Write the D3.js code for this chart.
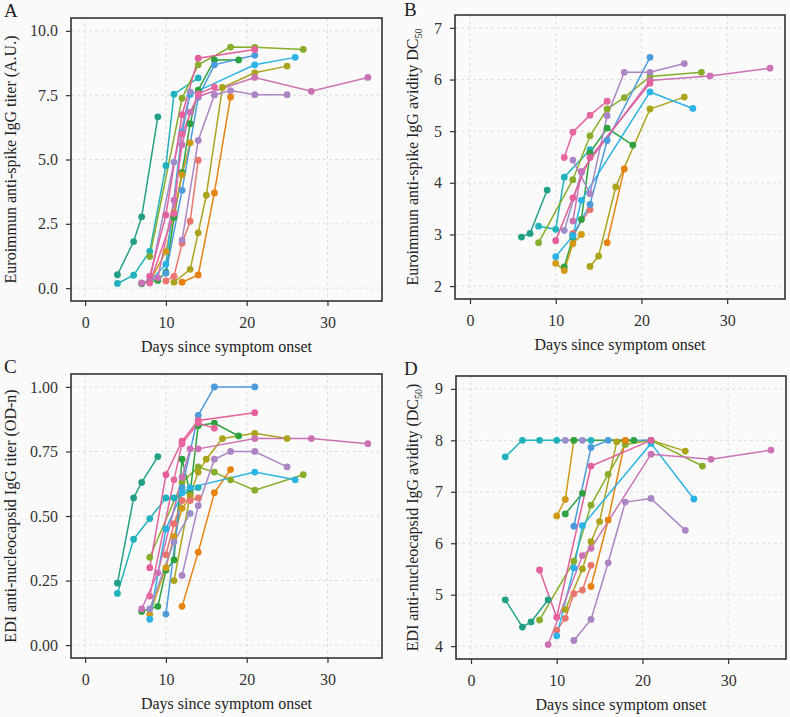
<!DOCTYPE html>
<html>
<head>
<meta charset="utf-8">
<script src="https://cdn.jsdelivr.net/npm/d3@7"></script>
<style>
  body { margin: 0; background: #fafafa; }
  svg { display: block; font-family: "Liberation Serif", "Times New Roman", serif; }
</style>
</head>
<body>
<svg id="chart" width="790" height="717"></svg>
<script>
// ---- data ----
const dayTicks = [0, 10, 20, 30];
const patientIds = ["P01", "P02", "P03", "P04", "P05", "P06", "P07", "P08",
                    "P09", "P10", "P11", "P12", "P13", "P14", "P15", "P16"];

const spikeTiterTicks = [0, 2.5, 5, 7.5, 10];
const spikeAvidityTicks = [2, 3, 4, 5, 6, 7];
const ncTiterTicks = [0, 0.25, 0.5, 0.75, 1];
const ncAvidityTicks = [4, 5, 6, 7, 8, 9];

// [patient, [[day, value], ...]]
const spikeTiter = [
  ["P07", [[4, 0.52], [6, 1.81], [7, 2.77], [9, 6.66]]],
  ["P08", [[4, 0.18], [6, 0.5], [8, 1.43], [10, 4.76], [11, 7.54], [14, 8.17]]],
  ["P05", [[8, 1.23], [12, 7.38], [14, 8.68], [18, 9.37], [21, 9.36], [27, 9.28]]],
  ["P06", [[7, 0.17], [9, 0.3], [10, 0.62], [11, 2.75], [12, 4.5], [13, 6.39], [14, 7.7], [16, 8.87], [19, 8.87]]],
  ["P03", [[8, 0.25], [10, 1.42], [11, 2.93], [12, 4.41], [13, 5.65]]],
  ["P04", [[11, 0.23], [13, 0.73], [14, 2.15], [15, 3.61], [17, 7.8], [21, 8.37], [25, 8.63]]],
  ["P02", [[12, 0.23], [14, 0.51], [16, 3.7], [18, 7.43]]],
  ["P01", [[10, 0.28], [11, 0.46], [12, 1.74], [13, 2.6], [14, 4.97]]],
  ["P10", [[10, 0.58], [12, 3.8], [14, 7.42], [16, 8.68], [21, 9.05]]],
  ["P09", [[8, 0.26], [10, 0.93], [12, 6.06], [13, 7.53], [21, 8.68], [26, 8.97]]],
  ["P11", [[8, 0.3], [11, 4.9], [13, 7.63]]],
  ["P12", [[12, 1.87], [14, 5.74], [16, 7.51], [18, 7.68], [21, 7.52], [25, 7.52]]],
  ["P13", [[7, 0.2], [9, 0.4], [11, 3.42], [12, 5.57], [13, 6.84], [14, 7.45], [21, 8.19], [28, 7.65], [35, 8.19]]],
  ["P14", [[8, 0.46], [10, 2.84], [12, 6.74], [14, 8.94], [21, 9.28]]],
  ["P15", [[8, 0.2], [11, 2.9], [12, 6.0], [14, 7.55], [16, 7.82]]]
];

const spikeAvidity = [
  ["P07", [[6, 2.95], [7, 3.02], [9, 3.86]]],
  ["P08", [[8, 3.16], [10, 3.1], [11, 4.11], [14, 4.64]]],
  ["P05", [[8, 2.84], [12, 4.06], [14, 4.91], [16, 5.43], [18, 5.65], [21, 6.06], [27, 6.14]]],
  ["P06", [[11, 2.37], [12, 2.94], [13, 3.29], [14, 4.58], [16, 5.06], [19, 4.73]]],
  ["P03", [[10, 2.44], [11, 2.3], [12, 2.82], [13, 3.0]]],
  ["P04", [[14, 2.38], [15, 2.58], [17, 3.92], [21, 5.43], [25, 5.66]]],
  ["P02", [[16, 2.84], [18, 4.27]]],
  ["P01", [[12, 3.02], [14, 3.48]]],
  ["P10", [[12, 2.98], [14, 3.58], [16, 4.82], [21, 6.43]]],
  ["P09", [[10, 2.57], [12, 2.97], [13, 3.66], [21, 5.76], [26, 5.44]]],
  ["P11", [[11, 3.08], [13, 4.2]]],
  ["P12", [[12, 4.44], [14, 3.79], [16, 5.3], [18, 6.14], [21, 6.14], [25, 6.31]]],
  ["P13", [[12, 3.26], [13, 4.22], [21, 5.98], [28, 6.07], [35, 6.22]]],
  ["P14", [[10, 2.88], [12, 3.71], [14, 4.49], [21, 5.93]]],
  ["P15", [[11, 4.49], [12, 4.98], [14, 5.31], [16, 5.58]]]
];

const ncTiter = [
  ["P07", [[4, 0.24], [6, 0.57], [7, 0.63], [9, 0.73]]],
  ["P08", [[4, 0.2], [6, 0.41], [8, 0.49], [10, 0.57], [11, 0.57], [14, 0.61]]],
  ["P05", [[8, 0.34], [12, 0.63], [14, 0.69], [16, 0.67], [18, 0.64], [21, 0.6], [27, 0.66]]],
  ["P06", [[7, 0.13], [9, 0.15], [10, 0.29], [11, 0.33], [12, 0.72], [13, 0.59], [14, 0.85], [16, 0.86], [19, 0.81]]],
  ["P03", [[8, 0.12], [10, 0.3], [11, 0.42], [12, 0.53], [13, 0.57]]],
  ["P04", [[11, 0.25], [13, 0.58], [14, 0.67], [15, 0.72], [17, 0.8], [21, 0.82], [25, 0.8]]],
  ["P02", [[12, 0.15], [14, 0.36], [16, 0.59], [18, 0.68]]],
  ["P01", [[10, 0.35], [11, 0.47], [12, 0.56], [13, 0.56], [14, 0.57]]],
  ["P10", [[10, 0.12], [12, 0.61], [14, 0.89], [16, 1.0], [21, 1.0]]],
  ["P09", [[8, 0.1], [10, 0.45], [12, 0.59], [13, 0.61], [21, 0.67], [26, 0.64]]],
  ["P11", [[8, 0.14], [11, 0.4], [13, 0.51]]],
  ["P12", [[12, 0.27], [14, 0.54], [16, 0.72], [18, 0.75], [21, 0.75], [25, 0.69]]],
  ["P13", [[7, 0.14], [9, 0.28], [12, 0.65], [13, 0.76], [14, 0.76], [21, 0.8], [28, 0.8], [35, 0.78]]],
  ["P14", [[8, 0.3], [10, 0.66], [12, 0.79], [14, 0.87], [21, 0.9]]],
  ["P15", [[8, 0.19], [11, 0.64], [12, 0.78], [14, 0.86], [16, 0.84]]]
];

const ncAvidity = [
  ["P07", [[4, 4.9], [6, 4.37], [7, 4.47], [9, 4.9]]],
  ["P08", [[4, 7.68], [6, 8.0], [8, 8.0], [10, 8.0], [14, 8.0]]],
  ["P05", [[8, 4.51], [12, 5.65], [14, 6.74], [16, 7.34], [18, 7.92], [21, 8.0], [27, 7.5]]],
  ["P06", [[11, 6.57], [13, 6.97]]],
  ["P03", [[10, 6.53], [11, 6.85], [12, 8.0]]],
  ["P04", [[11, 4.71], [13, 5.5], [14, 6.03], [15, 6.42], [17, 7.97], [21, 8.0], [25, 7.79]]],
  ["P02", [[14, 5.16], [16, 6.45], [18, 8.0]]],
  ["P01", [[10, 4.31], [11, 4.54], [12, 5.02], [13, 5.09], [14, 5.57]]],
  ["P10", [[12, 6.33], [14, 7.86], [16, 8.0], [21, 8.0]]],
  ["P09", [[10, 4.2], [12, 5.52], [13, 6.34], [21, 7.94], [26, 6.86]]],
  ["P11", [[11, 8.0], [13, 8.0]]],
  ["P12", [[12, 4.11], [14, 4.52], [16, 5.62], [18, 6.8], [21, 6.87], [25, 6.25]]],
  ["P13", [[9, 4.03], [13, 5.76], [14, 5.9], [21, 7.73], [28, 7.63], [35, 7.81]]],
  ["P14", [[8, 5.48], [10, 4.56], [14, 7.5], [21, 8.0]]],
  ["P16", [[12, 8.0], [19, 8.0]]]
];

// ---- styles ----
const patientColors = ["#e8766e", "#e6820f", "#d09a16", "#aba31c", "#88ad2b", "#2ea23f",
                       "#22a085", "#21b2bd", "#2ab3e4", "#4c9bda", "#9a8ecb", "#ac86c4",
                       "#cb72b4", "#e45f9b", "#e6679e", "#2ea23f"];
const color = d3.scaleOrdinal(patientIds, patientColors);
const FONT = "'Liberation Serif', 'Times New Roman', serif";

const svg = d3.select("#chart");
svg.append("rect").attr("width", 790).attr("height", 717).attr("fill", "#fafafa");

const panels = [
  { letter: "A", lx: 4, ly: 17, box: { left: 71, right: 382, top: 18, bottom: 301 },
    yDomain: [-0.5, 10.5], yTicks: spikeTiterTicks, fmt: d3.format(".1f"), data: spikeTiter,
    title: [["Euroimmun anti-spike IgG titer (A.U.)", 0]], titleX: 16 },
  { letter: "B", lx: 404, ly: 16, box: { left: 455, right: 785, top: 15, bottom: 299 },
    yDomain: [1.75, 7.25], yTicks: spikeAvidityTicks, fmt: d3.format("d"), data: spikeAvidity,
    title: [["Euroimmun anti-spike IgG avidity DC", 0], ["50", 1]], titleX: 418 },
  { letter: "C", lx: 4, ly: 373, box: { left: 71, right: 382, top: 374, bottom: 658 },
    yDomain: [-0.05, 1.05], yTicks: ncTiterTicks, fmt: d3.format(".2f"), data: ncTiter,
    title: [["EDI anti-nucleocapsid IgG titer (OD-n)", 0]], titleX: 16 },
  { letter: "D", lx: 404, ly: 375, box: { left: 456, right: 786, top: 376, bottom: 659 },
    yDomain: [3.75, 9.25], yTicks: ncAvidityTicks, fmt: d3.format("d"), data: ncAvidity,
    title: [["EDI anti-nucleocapsid IgG avidity (DC", 0], ["50", 1], [")", 2]], titleX: 418 }
];

function drawPanel(p) {
  const b = p.box;
  const g = svg.append("g");
  const x = d3.scaleLinear().domain([-1.75, 36.75]).range([b.left, b.right]);
  const y = d3.scaleLinear().domain(p.yDomain).range([b.bottom, b.top]);

  g.append("rect")
    .attr("x", b.left).attr("y", b.top)
    .attr("width", b.right - b.left).attr("height", b.bottom - b.top)
    .attr("fill", "#fafafa");

  // dashed grid
  g.append("g").selectAll("line").data(dayTicks).join("line")
    .attr("x1", d => x(d)).attr("x2", d => x(d))
    .attr("y1", b.top).attr("y2", b.bottom)
    .attr("stroke", "#dcdcdc").attr("stroke-dasharray", "3,3");
  g.append("g").selectAll("line").data(p.yTicks).join("line")
    .attr("x1", b.left).attr("x2", b.right)
    .attr("y1", d => y(d)).attr("y2", d => y(d))
    .attr("stroke", "#dcdcdc").attr("stroke-dasharray", "3,3");

  // axes
  const ax = g.append("g")
    .attr("transform", `translate(0,${b.bottom})`)
    .call(d3.axisBottom(x).tickValues(dayTicks).tickSize(5).tickSizeOuter(0).tickPadding(11));
  const ay = g.append("g")
    .attr("transform", `translate(${b.left},0)`)
    .call(d3.axisLeft(y).tickValues(p.yTicks).tickFormat(p.fmt).tickSize(5).tickSizeOuter(0).tickPadding(8));
  [ax, ay].forEach(a => {
    a.attr("font-family", FONT);
    a.select(".domain").remove();
    a.selectAll("line").attr("stroke", "#333").attr("stroke-width", 1.2);
    a.selectAll("text").attr("font-size", 16).attr("fill", "#333").attr("font-family", FONT);
  });

  // lines then points
  const line = d3.line().x(d => x(d[0])).y(d => y(d[1]));
  g.append("g").selectAll("path").data(p.data).join("path")
    .attr("d", d => line(d[1]))
    .attr("fill", "none")
    .attr("stroke", d => color(d[0]))
    .attr("stroke-width", 1.5);
  const pts = p.data.flatMap(d => d[1].map(v => ({ id: d[0], day: v[0], val: v[1] })));
  g.append("g").selectAll("circle").data(pts).join("circle")
    .attr("cx", d => x(d.day)).attr("cy", d => y(d.val))
    .attr("r", 3.4)
    .attr("fill", d => color(d.id));

  // frame
  g.append("rect")
    .attr("x", b.left).attr("y", b.top)
    .attr("width", b.right - b.left).attr("height", b.bottom - b.top)
    .attr("fill", "none").attr("stroke", "#333").attr("stroke-width", 1.6);

  // titles
  g.append("text")
    .attr("x", (b.left + b.right) / 2).attr("y", b.bottom + 51)
    .attr("text-anchor", "middle").attr("font-size", 16).attr("fill", "#222")
    .attr("font-family", FONT)
    .text("Days since symptom onset");

  const yt = g.append("text")
    .attr("transform", `translate(${p.titleX},${(b.top + b.bottom) / 2}) rotate(-90)`)
    .attr("text-anchor", "middle").attr("font-size", 16).attr("fill", "#222")
    .attr("font-family", FONT);
  p.title.forEach(([t, kind]) => {
    const ts = yt.append("tspan").text(t);
    if (kind === 1) ts.attr("font-size", 10).attr("dy", 4);
    if (kind === 2) ts.attr("dy", -4);
  });

  svg.append("text")
    .attr("x", p.lx).attr("y", p.ly)
    .attr("font-size", 19).attr("fill", "#222")
    .attr("font-family", FONT)
    .text(p.letter);
}

panels.forEach(drawPanel);
</script>
</body>
</html>
